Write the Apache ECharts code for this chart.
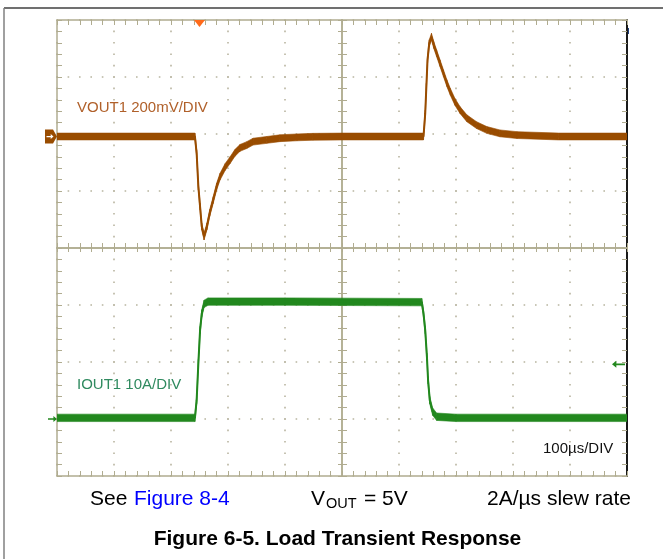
<!DOCTYPE html>
<html>
<head>
<meta charset="utf-8">
<script src="https://cdn.jsdelivr.net/npm/echarts@6/dist/echarts.min.js"></script>
<style>
  html, body { margin: 0; padding: 0; background: #fff; }
  #chart { width: 663px; height: 559px; }
</style>
</head>
<body>
<div id="chart"></div>
<script>
// VOUT1 deviation from 5V (mV) against time (µs)
var voutTime = [0, 242, 245, 248, 251, 254, 258, 263, 268, 274, 280, 286, 295, 304, 312, 321, 333, 344, 368, 391, 421, 449, 500,
                643, 646, 648, 650, 653, 657, 661, 666, 672, 678, 684, 690, 698, 707, 719, 736, 754, 777, 807, 880, 1000];
var voutMv = [0, 0, -59, -176, -246, -316, -351, -316, -268, -223, -176, -141, -107, -82, -58, -40, -30, -18, -12, -6, -3, -1, 0,
              0, 81, 175, 268, 327, 350, 321, 292, 257, 222, 187, 157, 122, 93, 64, 40, 23, 11, 5, 0, 0];

// IOUT1 load current (A) against time (µs)
var ioutTime = [0, 242, 245, 248, 251, 254, 258, 265, 400, 640, 643, 646, 649, 651, 654, 659, 666, 700, 1000];
var ioutA = [0.2, 0.2, 3.3, 9.8, 15.6, 18.5, 20.2, 20.6, 20.6, 20.5, 18.5, 15.6, 10.9, 6.8, 3.3, 1.3, 0.4, 0.2, 0.2];

// trigger point and level
var trigTime = 250;
var trigLevelA = 9.6;

// scope settings: 100µs/div, 10 div wide, 8 div high
var timeMax = 1000, timeDiv = 100;
var voutPerDiv = 200, ioutPerDiv = 10;
var voutZeroDiv = 5.956, ioutZeroDiv = 1;

var frameColor = '#b0ac90';
var dotColor = '#b8b5a0';
var voutColor = '#994c00';
var ioutColor = '#22881e';

var chart = echarts.init(document.getElementById('chart'));

function xAxisBase(extra) {
    var a = {
        type: 'value', min: 0, max: timeMax, interval: timeDiv,
        axisLabel: { show: false },
        axisLine: { onZero: false, lineStyle: { color: frameColor, width: 1.5 } },
        axisTick: { inside: true, length: 5, lineStyle: { color: frameColor } },
        minorTick: { show: true, splitNumber: 5, length: 5, lineStyle: { color: frameColor } },
        splitLine: { show: false }
    };
    return Object.assign(a, extra);
}
function yAxisBase(extra) {
    var a = {
        type: 'value', min: -ioutZeroDiv * ioutPerDiv, max: (8 - ioutZeroDiv) * ioutPerDiv, interval: ioutPerDiv,
        axisLabel: { show: false },
        axisLine: { onZero: false, lineStyle: { color: frameColor, width: 1.5 } },
        axisTick: { inside: true, length: 5, lineStyle: { color: frameColor } },
        minorTick: { show: true, splitNumber: 5, length: 5, lineStyle: { color: frameColor } },
        splitLine: { show: false }
    };
    return Object.assign(a, extra);
}
var dotted = { show: true, lineStyle: { color: dotColor, width: 1.6, type: [1.6, 9.8], dashOffset: 0.8 } };

// noisy trace: a band of +-half around the values, plus a thin centre line
function trace(name, xs, ys, yIdx, half, color, marks) {
    return [
        {
            type: 'custom', name: name + '_band', yAxisIndex: yIdx, clip: true, silent: true, z: 3,
            data: xs.map(function (x, i) { return [x, ys[i]]; }),
            renderItem: function (params, api) {
                var i = params.dataIndex;
                if (i >= xs.length - 1) return null;
                var a = api.coord([xs[i], ys[i] + half]);
                var b = api.coord([xs[i + 1], ys[i + 1] + half]);
                var c = api.coord([xs[i + 1], ys[i + 1] - half]);
                var d = api.coord([xs[i], ys[i] - half]);
                return { type: 'polygon', shape: { points: [a, b, c, d] },
                         style: { fill: color, stroke: color, lineWidth: 0.6 } };
            }
        },
        { type: 'line', name: name, yAxisIndex: yIdx, data: xs.map(function (x, i) { return [x, ys[i]]; }),
          symbol: 'none', lineStyle: { width: 2, color: color }, z: 4,
          markPoint: { silent: true, label: { show: false }, data: marks } }
    ];
}

var voutMarks = [
    { coord: [0, 0], symbol: 'path://M0,0 H8 L12,7 L8,14 H0 Z', symbolSize: [12, 14], symbolOffset: [-6, 0], itemStyle: { color: voutColor } },
    { coord: [0, 0], symbol: 'path://M0,3 H6 V0 L10,4 L6,8 V5 H0 Z', symbolSize: [7, 5], symbolOffset: [-7, 0], itemStyle: { color: '#fff' } }
];
var ioutMarks = [
    { coord: [0, 0], symbol: 'path://M0,3 H6 V0 L10,4 L6,8 V5 H0 Z', symbolSize: [9, 6], symbolOffset: [-4.5, 0], itemStyle: { color: ioutColor } },
    { coord: [timeMax, trigLevelA], symbol: 'path://M0,4 L4,0 V3 H12 V5 H4 V8 Z', symbolSize: [13, 7], symbolOffset: [-8.5, 0], itemStyle: { color: ioutColor } },
    { coord: [trigTime, (8 - ioutZeroDiv) * ioutPerDiv], symbol: 'triangle', symbolRotate: 180, symbolSize: [11, 7], symbolOffset: [0, 3.5], itemStyle: { color: '#ff6a1a' } }
];

var textFont = 'Liberation Sans, Arial, sans-serif';
function label(text, x, y, size, color, extra) {
    var st = { text: text, x: x, y: y, font: (extra && extra.bold ? 'bold ' : '') + size + 'px ' + textFont, fill: color,
               textAlign: (extra && extra.align) || 'left', align: (extra && extra.align) || 'left',
               textVerticalAlign: 'middle', verticalAlign: 'middle' };
    return { type: 'text', style: st, z: 10 };
}

var option = {
    animation: false,
    backgroundColor: '#fff',
    grid: { left: 57, top: 20, width: 570, height: 456, outerBoundsMode: 'none' },
    xAxis: [
        xAxisBase({ position: 'bottom', splitLine: dotted }),
        xAxisBase({ position: 'top' }),
        xAxisBase({ position: 'bottom', offset: -228 }),
        xAxisBase({ position: 'bottom', offset: -228, axisTick: { inside: false, length: 4, lineStyle: { color: frameColor } },
                    minorTick: { show: true, splitNumber: 5, length: 4, lineStyle: { color: frameColor } } })
    ],
    yAxis: [
        yAxisBase({ position: 'left', splitLine: dotted }),
        { type: 'value', show: false, min: -voutZeroDiv * voutPerDiv, max: (8 - voutZeroDiv) * voutPerDiv },
        yAxisBase({ position: 'right', axisLine: { onZero: false, lineStyle: { color: '#1a1a1a', width: 2 } } }),
        yAxisBase({ position: 'left', offset: -285 }),
        yAxisBase({ position: 'left', offset: -285, axisTick: { inside: false, length: 4, lineStyle: { color: frameColor } },
                    minorTick: { show: true, splitNumber: 5, length: 4, lineStyle: { color: frameColor } } })
    ],
    series: [].concat(
        trace('VOUT1', voutTime, voutMv, 1, 12, voutColor, voutMarks),
        trace('IOUT1', ioutTime, ioutA, 0, 0.65, ioutColor, ioutMarks)
    ),
    graphic: [
        { type: 'line', shape: { x1: 4, y1: 8, x2: 663, y2: 8 }, style: { stroke: '#707070', lineWidth: 2 } },
        { type: 'line', shape: { x1: 4, y1: 8, x2: 4, y2: 559 }, style: { stroke: '#808080', lineWidth: 1.5 } },
        { type: 'rect', shape: { x: 627, y: 28, width: 2, height: 6 }, style: { fill: '#1f3f7f' } },
        label('VOUT1 200mV/DIV', 77, 107.5, 15, '#b0602a'),
        label('IOUT1 10A/DIV', 77, 384.5, 15, '#2f8a5f'),
        label('100µs/DIV', 543, 448.5, 15, '#111'),
        label('See', 90, 499, 21, '#000'),
        label('Figure 8-4', 134, 499, 21, '#0000ff'),
        label('V', 311, 499, 21, '#000'),
        label('OUT', 326, 504, 14.5, '#000'),
        label('= 5V', 364, 499, 21, '#000'),
        label('2A/µs slew rate', 487, 499, 21, '#000'),
        label('Figure 6-5. Load Transient Response', 337.5, 539, 21, '#000', { bold: true, align: 'center' })
    ]
};
chart.setOption(option);
</script>
</body>
</html>
